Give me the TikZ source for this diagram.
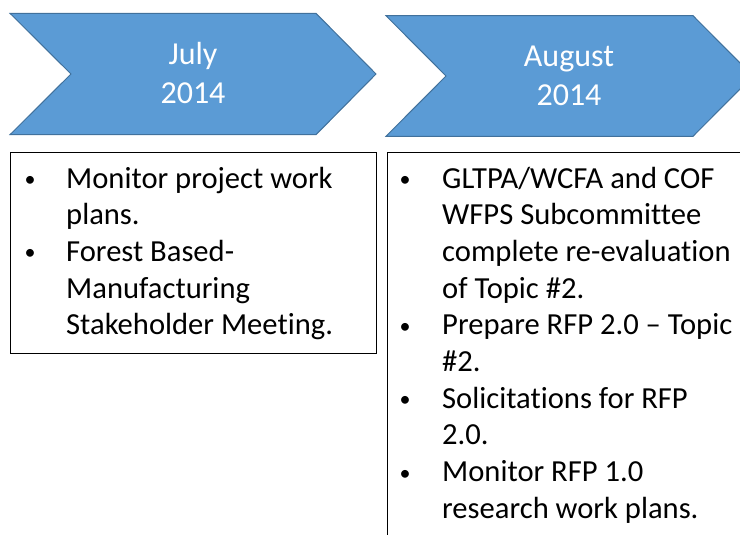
\documentclass[tikz,border=0pt]{standalone}
\usepackage{fontspec}
\setmainfont[Ligatures=NoCommon]{Carlito}
\definecolor{chevfill}{HTML}{5B9BD5}
\definecolor{chevline}{HTML}{41719C}
\newcommand\bul{\makebox[0pt][c]{\fontsize{22}{22}\selectfont\raisebox{1.5pt}{\textbullet}}}
\begin{document}
\begin{tikzpicture}[x=1pt,y=-1pt,
  chev/.style={fill=chevfill,draw=chevline,line width=1pt,line join=miter},
  chevtext/.style={text=white,inner sep=0pt,anchor=base,font=\fontsize{32}{39}\selectfont},
  boxframe/.style={draw=black,line width=1.2pt,inner sep=0pt,anchor=north west},
  boxtext/.style={text=black,inner sep=0pt,anchor=base west,font=\fontsize{30.6}{36.7}\selectfont}]
\useasboundingbox (0,0) rectangle (740,535);
\clip (0,0) rectangle (740,535);
% chevrons
\draw[chev] (10,13.3) -- (316,13.3) -- (376,74) -- (316,134.7) -- (10,134.7) -- (71,74) -- cycle;
\draw[chev] (386,15.7) -- (693,15.7) -- (753,76) -- (693,136.3) -- (386,136.3) -- (446,76) -- cycle;
\node[chevtext] (jul) at (193,65) {\begin{tabular}[t]{@{}c@{}}July\\2014\end{tabular}};
\node[chevtext] (aug) at (569,67) {\begin{tabular}[t]{@{}c@{}}August\\2014\end{tabular}};
% boxes
\node[boxframe,minimum width=365.7pt,minimum height=201pt] (box1) at (10,152) {};
\node[boxframe,minimum width=380pt,minimum height=420pt] (box2) at (386.7,152) {};
\node[boxtext] (t1) at (30,188) {\begin{tabular}[t]{@{}l@{}}
\bul\hspace{36pt}Monitor project work\\
\hspace{36pt}plans.\\
\bul\hspace{36pt}Forest Based-\\
\hspace{36pt}Manufacturing\\
\hspace{36pt}Stakeholder Meeting.
\end{tabular}};
\node[boxtext] (t2) at (405,188) {\begin{tabular}[t]{@{}l@{}}
\bul\hspace{37pt}GLTPA/WCFA and COF\\
\hspace{37pt}WFPS Subcommittee\\
\hspace{37pt}complete re-evaluation\\
\hspace{37pt}of Topic \#2.\\
\bul\hspace{37pt}Prepare RFP 2.0 – Topic\\
\hspace{37pt}\#2.\\
\bul\hspace{37pt}Solicitations for RFP\\
\hspace{37pt}2.0.\\
\bul\hspace{37pt}Monitor RFP 1.0\\
\hspace{37pt}research work plans.
\end{tabular}};
\end{tikzpicture}
\end{document}
